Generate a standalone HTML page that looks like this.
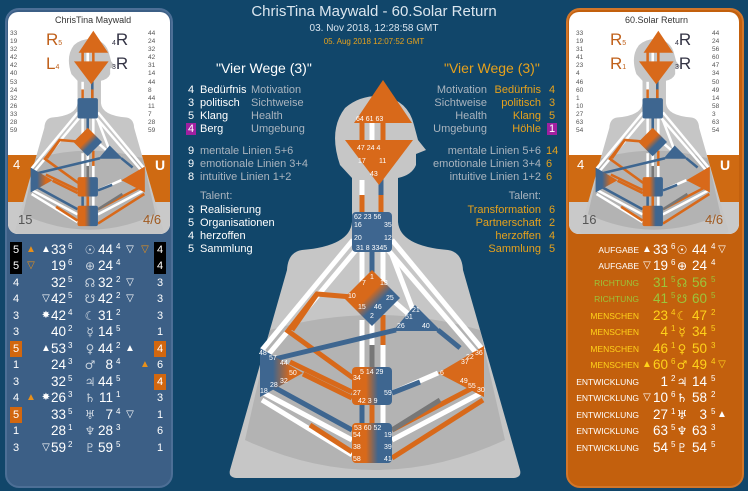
<!DOCTYPE html>
<html><head><meta charset="utf-8"><style>
*{margin:0;padding:0;box-sizing:border-box}
body{width:748px;height:491px;background:#11466a;position:relative;overflow:hidden;font-family:"Liberation Sans","DejaVu Sans",sans-serif;color:#fff}
.t{position:absolute;white-space:nowrap}
.row{position:absolute;left:0;width:748px;height:16px;font-size:13.5px;line-height:16px}
.row span{position:absolute;top:0}
.n1{width:40px;text-align:right}
.n2{width:40px;text-align:right}
.sp{font-size:8px;line-height:10px}
.sym{width:16px;text-align:center;color:#c9d3de;font-family:"DejaVu Sans",sans-serif;font-size:12px}
.tri{font-size:10px;width:12px;text-align:center}
.bx{width:12px;text-align:center;font-size:11px;height:16px}
.blk{background:#000}
.org{background:#d2670f}
.or{color:#e8901a}
.lab{font-size:8.5px;text-align:right;width:120px}
.g{color:#aab4be}
.y{color:#e6a11c}
.s11{font-size:11px;line-height:13px}
</style></head><body>

<div class="t" style="left:5px;top:8px;width:168px;height:480px;background:#3c5f86;border-radius:14px;border:2px solid #4d6f96"></div>
<div class="t" style="left:8px;top:12px;width:162px;height:222px;border-radius:10px;overflow:hidden;background:#fff">
 <div style="position:absolute;left:0;top:143px;width:162px;height:60px;background:#cf6a12"></div>
 <div style="position:absolute;left:0;top:190px;width:162px;height:40px;background:#c9c9c9"></div>
</div>
<div class="t" style="left:566px;top:8px;width:178px;height:480px;background:#c3600d;border-radius:14px;border:2px solid #d2762a"></div>
<div class="t" style="left:569px;top:12px;width:170px;height:222px;border-radius:10px;overflow:hidden;background:#fff">
 <div style="position:absolute;left:0;top:143px;width:170px;height:60px;background:#cf6a12"></div>
 <div style="position:absolute;left:0;top:190px;width:170px;height:40px;background:#c9c9c9"></div>
</div>

<svg width="748" height="491" style="position:absolute;left:0;top:0">
<defs>
 <linearGradient id="gOB" x1="0" x2="1" y1="0" y2="0"><stop offset="0.35" stop-color="#d8691a"/><stop offset="0.65" stop-color="#3e6690"/></linearGradient>
 <linearGradient id="gBO" x1="0" x2="1" y1="0" y2="0"><stop offset="0.3" stop-color="#3e6690"/><stop offset="0.7" stop-color="#d8691a"/></linearGradient>
 <linearGradient id="gD" x1="0" x2="1" y1="0" y2="1"><stop offset="0.45" stop-color="#d8691a"/><stop offset="0.6" stop-color="#3e6690"/></linearGradient>
 <g id="body">
  <path d="M340,165 Q328,130 345,108 Q360,95 382,96 Q408,100 414,125 L418,140 L426,150 L416,154 L416,165 Q412,175 398,178 L398,222 Q400,246 448,250 Q462,252 463,270 L520,470 Q522,478 512,478 L238,478 Q228,478 230,470 L287,270 Q288,252 302,250 Q350,246 352,222 L352,178 Z" fill="#c6c6c6"/>
  <path d="M270,330 Q375,300 480,330 L505,440 Q375,500 245,440 Z" fill="#b3b3b3"/>
  <g stroke-width="5" fill="none">
   <line x1="362" y1="120" x2="362" y2="145" stroke="#d8691a"/>
   <line x1="372" y1="120" x2="372" y2="145" stroke="#fff"/>
   <line x1="383" y1="120" x2="383" y2="145" stroke="#d8691a"/>
   <line x1="362" y1="180" x2="362" y2="215" stroke="#fff"/>
   <line x1="362" y1="195" x2="362" y2="215" stroke="#d8691a"/>
   <line x1="381" y1="175" x2="381" y2="215" stroke="#3e6690"/>
   <line x1="381" y1="195" x2="381" y2="215" stroke="#d8691a"/>
   <line x1="362" y1="250" x2="362" y2="285" stroke="#fff"/>
   <line x1="372" y1="250" x2="372" y2="275" stroke="#3e6690"/>
   <line x1="383" y1="250" x2="383" y2="285" stroke="#fff"/>
   <line x1="362" y1="320" x2="362" y2="368" stroke="#fff"/>
   <line x1="372" y1="320" x2="372" y2="368" stroke="#fff"/>
   <line x1="372" y1="345" x2="372" y2="368" stroke="#777"/>
   <line x1="383" y1="315" x2="383" y2="368" stroke="#fff"/>
   <line x1="383" y1="315" x2="383" y2="345" stroke="#d8691a"/>
   <line x1="362" y1="405" x2="362" y2="425" stroke="#3e6690"/>
   <line x1="372" y1="405" x2="372" y2="425" stroke="#d8691a"/>
   <line x1="383" y1="405" x2="383" y2="425" stroke="#fff"/>
   <line x1="353" y1="240" x2="262" y2="350" stroke="#fff"/>
   <line x1="356" y1="250" x2="268" y2="355" stroke="#fff"/>
   <line x1="392" y1="240" x2="483" y2="350" stroke="#fff"/>
   <line x1="388" y1="250" x2="478" y2="355" stroke="#fff"/>
   <line x1="392" y1="255" x2="413" y2="310" stroke="#fff"/>
   <line x1="262" y1="392" x2="352" y2="440" stroke="#fff"/>
   <line x1="268" y1="384" x2="352" y2="430" stroke="#3e6690"/>
   <line x1="262" y1="400" x2="352" y2="455" stroke="#fff"/>
   <line x1="310" y1="425" x2="352" y2="452" stroke="#d8691a"/>
   <line x1="483" y1="392" x2="392" y2="440" stroke="#fff"/>
   <line x1="478" y1="385" x2="392" y2="430" stroke="#d8691a"/>
   <line x1="483" y1="400" x2="392" y2="458" stroke="#d8691a"/>
   <line x1="440" y1="400" x2="392" y2="430" stroke="#777"/>
   <polyline points="352,297 317,294 288,331 353,378" stroke="#d8691a"/>
   <line x1="317" y1="294" x2="292" y2="330" stroke="#d8691a"/>
   <line x1="290" y1="362" x2="352" y2="392" stroke="#d8691a"/>
   <line x1="303" y1="374" x2="352" y2="398" stroke="#d8691a"/>
   <line x1="396" y1="330" x2="262" y2="362" stroke="#3e6690"/>
   <line x1="438" y1="330" x2="460" y2="348" stroke="#3e6690"/>
   <line x1="438" y1="373" x2="392" y2="393" stroke="#fff"/>
   <line x1="420" y1="382" x2="392" y2="393" stroke="#3e6690"/>
   <line x1="390" y1="298" x2="413" y2="318" stroke="#fff"/>
  </g>
  <polygon points="383,80 412,123 354,123" fill="#d8691a"/>
  <polygon points="345,140 413,140 379,185" fill="#d8691a"/>
  <rect x="352" y="212" width="40" height="40" rx="4" fill="#3e6690"/>
  <polygon points="372,270 400,298 372,326 344,298" fill="url(#gD)"/>
  <polygon points="415,305 441,331 393,331" fill="#3e6690"/>
  <polygon points="260,348 260,397 303,373" fill="url(#gBO)"/>
  <polygon points="484,346 484,397 438,373" fill="#d8691a"/>
  <rect x="352" y="367" width="40" height="38" rx="4" fill="url(#gOB)"/>
  <rect x="352" y="423" width="40" height="40" rx="4" fill="url(#gOB)"/>
 </g>
</defs>
<use href="#body"/>
<g font-size="7" fill="#fff" font-family="Liberation Sans">
 <text x="356" y="121">64 61 63</text><text x="357" y="150">47 24 4</text>
 <text x="358" y="163">17</text><text x="379" y="163">11</text><text x="370" y="176">43</text>
 <text x="354" y="219">62 23 56</text><text x="354" y="227">16</text><text x="384" y="227">35</text>
 <text x="354" y="240">20</text><text x="384" y="240">12</text><text x="356" y="250">31 8 3345</text>
 <text x="370" y="279">1</text><text x="362" y="285">7</text><text x="380" y="285">13</text>
 <text x="348" y="298">10</text><text x="386" y="300">25</text><text x="358" y="309">15</text><text x="374" y="309">46</text><text x="370" y="318">2</text>
 <text x="412" y="312">21</text><text x="405" y="319">51</text><text x="397" y="328">26</text><text x="422" y="328">40</text>
 <text x="259" y="355">48</text><text x="269" y="360">57</text><text x="280" y="365">44</text><text x="289" y="375">50</text>
 <text x="280" y="383">32</text><text x="270" y="387">28</text><text x="260" y="393">18</text>
 <text x="475" y="355">36</text><text x="466" y="359">22</text><text x="461" y="364">37</text><text x="440" y="375">6</text>
 <text x="460" y="383">49</text><text x="468" y="388">55</text><text x="477" y="392">30</text>
 <text x="360" y="374">5 14 29</text><text x="353" y="380">34</text><text x="353" y="395">27</text><text x="384" y="395">59</text>
 <text x="358" y="403">42 3 9</text>
 <text x="354" y="430">53 60 52</text><text x="353" y="437">54</text><text x="384" y="437">19</text>
 <text x="353" y="449">38</text><text x="384" y="449">39</text><text x="353" y="461">58</text><text x="384" y="461">41</text>
</g>
<use href="#body" transform="translate(-102,-10) scale(0.51)"/>
<use href="#body" transform="translate(463,-10) scale(0.51)"/>
</svg>

<div class="t" style="left:55px;top:15px;font-size:9px;color:#333">ChrisTina Maywald</div>
<div class="t" style="left:46px;top:30px;font-size:17px;color:#c0601a;line-height:20px">R<span style="font-size:7px">5</span><br>L<span style="font-size:7px">4</span></div>
<div class="t" style="left:112px;top:30px;font-size:17px;color:#334;line-height:20px"><span style="font-size:7px">4</span>R<br><span style="font-size:7px">3</span>R</div>
<div class="t" style="left:10px;top:30px;font-size:6.5px;line-height:8.1px;color:#555">33<br>19<br>32<br>42<br>42<br>40<br>53<br>24<br>32<br>26<br>33<br>28<br>59</div>
<div class="t" style="left:148px;top:30px;font-size:6.5px;line-height:8.1px;color:#555">44<br>24<br>32<br>42<br>31<br>14<br>44<br>8<br>44<br>11<br>7<br>28<br>59</div>
<div class="t" style="left:13px;top:157px;font-size:13px;color:#fff">4</div>
<div class="t" style="left:155px;top:157px;font-size:14px;color:#fff;font-weight:bold">U</div>
<div class="t" style="left:18px;top:212px;font-size:13px;color:#555">15</div>
<div class="t" style="left:143px;top:212px;font-size:13px;color:#a05a20">4/6</div>

<div class="t" style="left:625px;top:15px;font-size:9px;color:#333">60.Solar Return</div>
<div class="t" style="left:610px;top:30px;font-size:17px;color:#c0601a;line-height:20px">R<span style="font-size:7px">5</span><br>R<span style="font-size:7px">1</span></div>
<div class="t" style="left:675px;top:30px;font-size:17px;color:#334;line-height:20px"><span style="font-size:7px">4</span>R<br><span style="font-size:7px">3</span>R</div>
<div class="t" style="left:576px;top:30px;font-size:6.5px;line-height:8.1px;color:#555">33<br>19<br>31<br>41<br>23<br>4<br>46<br>60<br>1<br>10<br>27<br>63<br>54</div>
<div class="t" style="left:712px;top:30px;font-size:6.5px;line-height:8.1px;color:#555">44<br>24<br>56<br>60<br>47<br>34<br>50<br>49<br>14<br>58<br>3<br>63<br>54</div>
<div class="t" style="left:577px;top:157px;font-size:13px;color:#fff">4</div>
<div class="t" style="left:720px;top:157px;font-size:14px;color:#fff;font-weight:bold">U</div>
<div class="t" style="left:582px;top:212px;font-size:13px;color:#555">16</div>
<div class="t" style="left:705px;top:212px;font-size:13px;color:#a05a20">4/6</div>

<div class="t" style="left:0;width:748px;text-align:center;top:3px;font-size:15px;color:#dbe6ef">ChrisTina Maywald - 60.Solar Return</div>
<div class="t" style="left:0;width:748px;text-align:center;top:23px;font-size:10px;color:#dbe6ef">03. Nov 2018, 12:28:58 GMT</div>
<div class="t" style="left:0;width:748px;text-align:center;top:37px;font-size:8px;color:#e6a11c">05. Aug 2018 12:07:52 GMT</div>

<div class="t" style="left:216px;top:60px;font-size:14px;color:#fff">"Vier Wege (3)"</div>
<div class="t s11" style="left:188px;top:84px">4<br>3<br>5<br><span style="background:#a020a0;padding:0 2px;margin-left:-2px">4</span></div>
<div class="t s11" style="left:200px;top:84px">Bedürfnis<br>politisch<br>Klang<br>Berg</div>
<div class="t s11 g" style="left:251px;top:84px">Motivation<br>Sichtweise<br>Health<br>Umgebung</div>
<div class="t s11" style="left:188px;top:145px">9<br>9<br>8</div>
<div class="t s11 g" style="left:200px;top:145px">mentale Linien 5+6<br>emotionale Linien 3+4<br>intuitive Linien 1+2</div>
<div class="t s11 g" style="left:200px;top:190px">Talent:</div>
<div class="t s11" style="left:188px;top:204px">3<br>5<br>4<br>5</div>
<div class="t s11" style="left:200px;top:204px">Realisierung<br>Organisationen<br>herzoffen<br>Sammlung</div>

<div class="t y" style="left:444px;top:60px;font-size:14px">"Vier Wege (3)"</div>
<div class="t s11 g" style="left:390px;top:84px;width:97px;text-align:right">Motivation<br>Sichtweise<br>Health<br>Umgebung</div>
<div class="t s11 y" style="left:440px;top:84px;width:101px;text-align:right">Bedürfnis<br>politisch<br>Klang<br>Höhle</div>
<div class="t s11 y" style="left:549px;top:84px">4<br>3<br>5<br><span style="background:#a020a0;color:#fff;padding:0 2px;margin-left:-2px">1</span></div>
<div class="t s11 g" style="left:400px;top:145px;width:141px;text-align:right">mentale Linien 5+6<br>emotionale Linien 3+4<br>intuitive Linien 1+2</div>
<div class="t s11 y" style="left:546px;top:145px">14<br>6<br>6</div>
<div class="t s11 g" style="left:440px;top:190px;width:101px;text-align:right">Talent:</div>
<div class="t s11 y" style="left:420px;top:204px;width:121px;text-align:right">Transformation<br>Partnerschaft<br>herzoffen<br>Sammlung</div>
<div class="t s11 y" style="left:549px;top:204px">6<br>2<br>4<br>5</div>

<div class="row" style="top:242px"><span class="bx blk" style="left:10px">5</span><span class="tri or" style="left:25px">▲</span><span class="tri" style="left:40px">▲</span><span class="n1" style="left:26px">33</span><span class="sp" style="left:68px">6</span><span class="sym" style="left:82px">☉</span><span class="n2" style="left:73px">44</span><span class="sp" style="left:116px">4</span><span class="tri" style="left:124px">▽</span><span class="tri or" style="left:139px">▽</span><span class="bx blk" style="left:154px">4</span></div>
<div class="row" style="top:258px"><span class="bx blk" style="left:10px">5</span><span class="tri or" style="left:25px">▽</span><span class="n1" style="left:26px">19</span><span class="sp" style="left:68px">6</span><span class="sym" style="left:82px">⊕</span><span class="n2" style="left:73px">24</span><span class="sp" style="left:116px">4</span><span class="bx blk" style="left:154px">4</span></div>
<div class="row" style="top:275px"><span class="bx" style="left:10px">4</span><span class="n1" style="left:26px">32</span><span class="sp" style="left:68px">5</span><span class="sym" style="left:82px">☊</span><span class="n2" style="left:73px">32</span><span class="sp" style="left:116px">2</span><span class="tri" style="left:124px">▽</span><span class="bx" style="left:154px">3</span></div>
<div class="row" style="top:291px"><span class="bx" style="left:10px">4</span><span class="tri" style="left:40px">▽</span><span class="n1" style="left:26px">42</span><span class="sp" style="left:68px">5</span><span class="sym" style="left:82px">☋</span><span class="n2" style="left:73px">42</span><span class="sp" style="left:116px">2</span><span class="tri" style="left:124px">▽</span><span class="bx" style="left:154px">3</span></div>
<div class="row" style="top:308px"><span class="bx" style="left:10px">3</span><span class="tri" style="left:40px">✸</span><span class="n1" style="left:26px">42</span><span class="sp" style="left:68px">4</span><span class="sym" style="left:82px">☾</span><span class="n2" style="left:73px">31</span><span class="sp" style="left:116px">2</span><span class="bx" style="left:154px">3</span></div>
<div class="row" style="top:324px"><span class="bx" style="left:10px">3</span><span class="n1" style="left:26px">40</span><span class="sp" style="left:68px">2</span><span class="sym" style="left:82px">☿</span><span class="n2" style="left:73px">14</span><span class="sp" style="left:116px">5</span><span class="bx" style="left:154px">1</span></div>
<div class="row" style="top:341px"><span class="bx org" style="left:10px">5</span><span class="tri" style="left:40px">▲</span><span class="n1" style="left:26px">53</span><span class="sp" style="left:68px">3</span><span class="sym" style="left:82px">♀</span><span class="n2" style="left:73px">44</span><span class="sp" style="left:116px">2</span><span class="tri" style="left:124px">▲</span><span class="bx org" style="left:154px">4</span></div>
<div class="row" style="top:357px"><span class="bx" style="left:10px">1</span><span class="n1" style="left:26px">24</span><span class="sp" style="left:68px">3</span><span class="sym" style="left:82px">♂</span><span class="n2" style="left:73px">8</span><span class="sp" style="left:116px">4</span><span class="tri or" style="left:139px">▲</span><span class="bx" style="left:154px">6</span></div>
<div class="row" style="top:374px"><span class="bx" style="left:10px">3</span><span class="n1" style="left:26px">32</span><span class="sp" style="left:68px">5</span><span class="sym" style="left:82px">♃</span><span class="n2" style="left:73px">44</span><span class="sp" style="left:116px">5</span><span class="bx org" style="left:154px">4</span></div>
<div class="row" style="top:390px"><span class="bx" style="left:10px">4</span><span class="tri or" style="left:25px">▲</span><span class="tri" style="left:40px">✸</span><span class="n1" style="left:26px">26</span><span class="sp" style="left:68px">3</span><span class="sym" style="left:82px">♄</span><span class="n2" style="left:73px">11</span><span class="sp" style="left:116px">1</span><span class="bx" style="left:154px">3</span></div>
<div class="row" style="top:407px"><span class="bx org" style="left:10px">5</span><span class="n1" style="left:26px">33</span><span class="sp" style="left:68px">5</span><span class="sym" style="left:82px">♅</span><span class="n2" style="left:73px">7</span><span class="sp" style="left:116px">4</span><span class="tri" style="left:124px">▽</span><span class="bx" style="left:154px">1</span></div>
<div class="row" style="top:423px"><span class="bx" style="left:10px">1</span><span class="n1" style="left:26px">28</span><span class="sp" style="left:68px">1</span><span class="sym" style="left:82px">♆</span><span class="n2" style="left:73px">28</span><span class="sp" style="left:116px">3</span><span class="bx" style="left:154px">6</span></div>
<div class="row" style="top:440px"><span class="bx" style="left:10px">3</span><span class="tri" style="left:40px">▽</span><span class="n1" style="left:26px">59</span><span class="sp" style="left:68px">2</span><span class="sym" style="left:82px">♇</span><span class="n2" style="left:73px">59</span><span class="sp" style="left:116px">5</span><span class="bx" style="left:154px">1</span></div>

<div class="row" style="top:242px"><span class="lab" style="left:519px">AUFGABE</span><span class="tri" style="left:641px">▲</span><span class="n1" style="left:628px">33</span><span class="sp" style="left:671px">6</span><span class="sym" style="left:674px;color:#fff">☉</span><span class="n2" style="left:667px">44</span><span class="sp" style="left:711px">4</span><span class="tri" style="left:716px">▽</span></div>
<div class="row" style="top:258px"><span class="lab" style="left:519px">AUFGABE</span><span class="tri" style="left:641px">▽</span><span class="n1" style="left:628px">19</span><span class="sp" style="left:671px">6</span><span class="sym" style="left:674px;color:#fff">⊕</span><span class="n2" style="left:667px">24</span><span class="sp" style="left:711px">4</span></div>
<div class="row" style="top:275px;color:#9cc53a"><span class="lab" style="left:519px">RICHTUNG</span><span class="n1" style="left:628px">31</span><span class="sp" style="left:671px">5</span><span class="sym" style="left:674px;color:#9cc53a">☊</span><span class="n2" style="left:667px">56</span><span class="sp" style="left:711px">5</span></div>
<div class="row" style="top:291px;color:#9cc53a"><span class="lab" style="left:519px">RICHTUNG</span><span class="n1" style="left:628px">41</span><span class="sp" style="left:671px">5</span><span class="sym" style="left:674px;color:#9cc53a">☋</span><span class="n2" style="left:667px">60</span><span class="sp" style="left:711px">5</span></div>
<div class="row" style="top:308px;color:#ffd21a"><span class="lab" style="left:519px">MENSCHEN</span><span class="n1" style="left:628px">23</span><span class="sp" style="left:671px">4</span><span class="sym" style="left:674px;color:#ffd21a">☾</span><span class="n2" style="left:667px">47</span><span class="sp" style="left:711px">2</span></div>
<div class="row" style="top:324px;color:#ffd21a"><span class="lab" style="left:519px">MENSCHEN</span><span class="n1" style="left:628px">4</span><span class="sp" style="left:671px">1</span><span class="sym" style="left:674px;color:#ffd21a">☿</span><span class="n2" style="left:667px">34</span><span class="sp" style="left:711px">5</span></div>
<div class="row" style="top:341px;color:#ffd21a"><span class="lab" style="left:519px">MENSCHEN</span><span class="n1" style="left:628px">46</span><span class="sp" style="left:671px">1</span><span class="sym" style="left:674px;color:#ffd21a">♀</span><span class="n2" style="left:667px">50</span><span class="sp" style="left:711px">3</span></div>
<div class="row" style="top:357px;color:#ffd21a"><span class="lab" style="left:519px">MENSCHEN</span><span class="tri" style="left:641px">▲</span><span class="n1" style="left:628px">60</span><span class="sp" style="left:671px">6</span><span class="sym" style="left:674px;color:#ffd21a">♂</span><span class="n2" style="left:667px">49</span><span class="sp" style="left:711px">4</span><span class="tri" style="left:716px">▽</span></div>
<div class="row" style="top:374px"><span class="lab" style="left:519px">ENTWICKLUNG</span><span class="n1" style="left:628px">1</span><span class="sp" style="left:671px">2</span><span class="sym" style="left:674px;color:#fff">♃</span><span class="n2" style="left:667px">14</span><span class="sp" style="left:711px">5</span></div>
<div class="row" style="top:390px"><span class="lab" style="left:519px">ENTWICKLUNG</span><span class="tri" style="left:641px">▽</span><span class="n1" style="left:628px">10</span><span class="sp" style="left:671px">6</span><span class="sym" style="left:674px;color:#fff">♄</span><span class="n2" style="left:667px">58</span><span class="sp" style="left:711px">2</span></div>
<div class="row" style="top:407px"><span class="lab" style="left:519px">ENTWICKLUNG</span><span class="n1" style="left:628px">27</span><span class="sp" style="left:671px">1</span><span class="sym" style="left:674px;color:#fff">♅</span><span class="n2" style="left:667px">3</span><span class="sp" style="left:711px">5</span><span class="tri" style="left:716px">▲</span></div>
<div class="row" style="top:423px"><span class="lab" style="left:519px">ENTWICKLUNG</span><span class="n1" style="left:628px">63</span><span class="sp" style="left:671px">5</span><span class="sym" style="left:674px;color:#fff">♆</span><span class="n2" style="left:667px">63</span><span class="sp" style="left:711px">3</span></div>
<div class="row" style="top:440px"><span class="lab" style="left:519px">ENTWICKLUNG</span><span class="n1" style="left:628px">54</span><span class="sp" style="left:671px">5</span><span class="sym" style="left:674px;color:#fff">♇</span><span class="n2" style="left:667px">54</span><span class="sp" style="left:711px">5</span></div>
</body></html>
